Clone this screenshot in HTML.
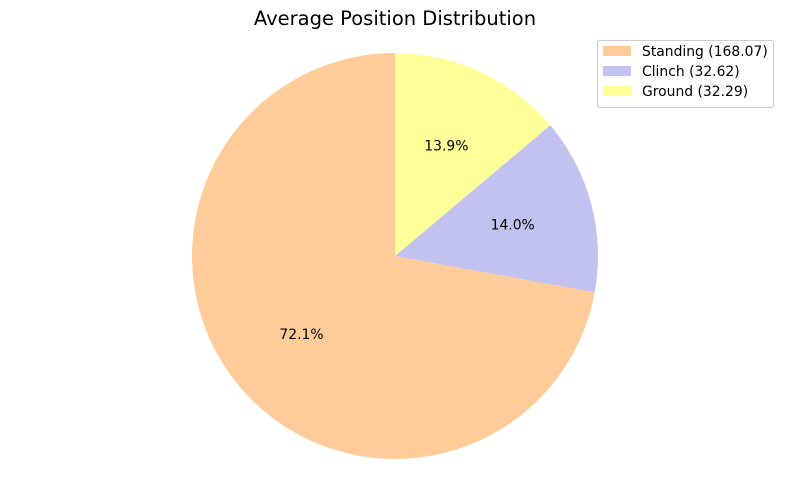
<!DOCTYPE html>
<html><head><meta charset="utf-8"><style>
body{margin:0;background:#fff;}
svg{display:block;font-family:"DejaVu Sans","Liberation Sans",sans-serif;}
</style></head><body>
<svg id="chart" width="790" height="490" viewBox="0 0 790 490">
<text x="395" y="25" text-anchor="middle" font-size="19.5">Average Position Distribution</text>
<g id="slices"></g>
<g id="legend">
<rect x="597.5" y="40.5" width="176" height="67" rx="2" fill="#fff" stroke="#ccc"/>
</g>
</svg>
<script>
const categories = ["Standing", "Clinch", "Ground"];
const values = [168.07, 32.62, 32.29];
const colors = ["#ffcc99", "#c2c2f0", "#ffff99"];
const cx = 395, cy = 256, r = 203;
const total = values.reduce((a, b) => a + b, 0);
const ns = "http://www.w3.org/2000/svg";
const g = document.getElementById("slices");
let ang = 90;
values.forEach((v, i) => {
  const sweep = v / total * 360;
  const a0 = ang * Math.PI / 180, a1 = (ang + sweep) * Math.PI / 180;
  const x0 = cx + r * Math.cos(a0), y0 = cy - r * Math.sin(a0);
  const x1 = cx + r * Math.cos(a1), y1 = cy - r * Math.sin(a1);
  const large = sweep > 180 ? 1 : 0;
  const p = document.createElementNS(ns, "path");
  p.setAttribute("d", `M${cx},${cy} L${x0},${y0} A${r},${r} 0 ${large} 0 ${x1},${y1} Z`);
  p.setAttribute("fill", colors[i]);
  
  
  g.appendChild(p);
  const mid = (ang + sweep / 2) * Math.PI / 180;
  const t = document.createElementNS(ns, "text");
  t.setAttribute("x", cx + 0.6 * r * Math.cos(mid));
  t.setAttribute("y", cy - 0.6 * r * Math.sin(mid) + 5);
  t.setAttribute("text-anchor", "middle");
  t.setAttribute("font-size", "13.9");
  t.textContent = (v / total * 100).toFixed(1) + "%";
  
  
  g.appendChild(t);
  ang += sweep;
});
const lg = document.getElementById("legend");
categories.forEach((c, i) => {
  const y = 46 + i * 20;
  const rc = document.createElementNS(ns, "rect");
  rc.setAttribute("x", 603); rc.setAttribute("y", y);
  rc.setAttribute("width", 28); rc.setAttribute("height", 10);
  rc.setAttribute("fill", colors[i]);
  
  
  lg.appendChild(rc);
  const t = document.createElementNS(ns, "text");
  t.setAttribute("x", 642); t.setAttribute("y", y + 10);
  t.setAttribute("font-size", "13.9");
  t.textContent = `${c} (${values[i].toFixed(2)})`;
  
  
  lg.appendChild(t);
});
</script>
</body></html>
